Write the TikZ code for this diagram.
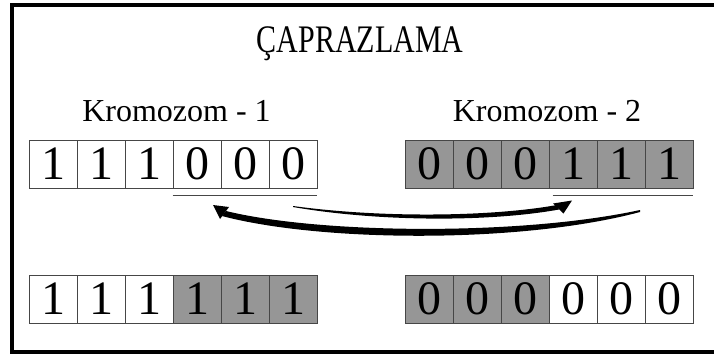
\documentclass[tikz,border=0pt]{standalone}
\usepackage{fontspec}
\setmainfont{Liberation Serif}
\usetikzlibrary{positioning}
\definecolor{genegray}{RGB}{150,150,150}
\definecolor{edgegray}{RGB}{70,70,70}

\begin{document}
\begin{tikzpicture}[x=1pt,y=-1pt,
    gene/.style={draw=edgegray,line width=0.8pt,minimum width=48pt,minimum height=48pt,
      inner sep=0pt,font=\fontsize{48}{48}\selectfont},
    swapgene/.style={gene,fill=genegray},
    chromlabel/.style={inner sep=0pt,font=\fontsize{32}{36}\selectfont},
    cutline/.style={draw=edgegray,line width=0.9pt}]
    \clip (0,0) rectangle (714,354);
    \draw[line width=4pt] (730,5) -- (12,5) -- (12,351.5) -- (730,351.5);

    \node[inner sep=0pt,font=\fontsize{30}{36}\selectfont] (title) at (360,44)
      {\scalebox{1}[1.3]{ÇAPRAZLAMA}};
    \node[chromlabel] (k1) at (176.5,111) {Kromozom - 1};
    \node[chromlabel] (k2) at (547,111) {Kromozom - 2};

    % parents
    \foreach \i/\g in {1/1,2/1,3/1,4/0,5/0,6/0}
      \node[gene] (a\i) at ({5+48*\i},164) {\g};
    \foreach \i/\g in {1/0,2/0,3/0,4/1,5/1,6/1}
      \node[swapgene] (b\i) at ({381+48*\i},164) {\g};
    \draw[cutline] ([yshift=-7pt]a4.south west) -- ([yshift=-7pt]a6.south east);
    \draw[cutline] ([xshift=4pt,yshift=-7pt]b4.south west) -- ([yshift=-7pt]b6.south east);

    % swap arrows
    \fill (293,206) .. controls (380,218) and (490,217) .. (557,205)
      -- (559,209.5) .. controls (490,222) and (380,222) .. (293,207) -- cycle;
    \fill (553,203.5) -- (572,200.5) -- (563.5,213.5) -- cycle;
    \fill (226,211) .. controls (320,234) and (520,236) .. (640,210)
      -- (640,212) .. controls (520,244) and (320,242) .. (222,216) -- cycle;
    \fill (213,205) -- (229,207) -- (220,219) -- cycle;

    % children
    \foreach \i in {1,2,3}
      \node[gene] (c\i) at ({5+48*\i},299) {1};
    \foreach \i in {4,5,6}
      \node[swapgene] (c\i) at ({5+48*\i},299) {1};
    \foreach \i in {1,2,3}
      \node[swapgene] (d\i) at ({381+48*\i},299) {0};
    \foreach \i in {4,5,6}
      \node[gene] (d\i) at ({381+48*\i},299) {0};
  \end{tikzpicture}
\end{document}
